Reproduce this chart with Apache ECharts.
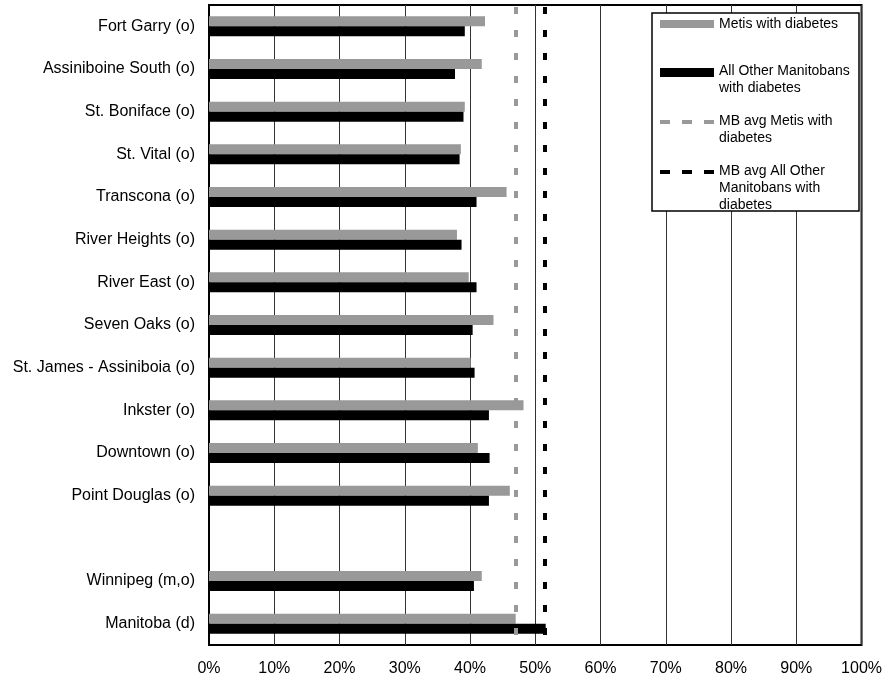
<!DOCTYPE html>
<html><head><meta charset="utf-8">
<script src="https://cdn.jsdelivr.net/npm/echarts@6/dist/echarts.min.js"></script>
<style>html,body{margin:0;padding:0;background:#fff}#c{width:885px;height:681px}</style>
</head><body><div id="c"></div>
<script>
var categories = ["Fort Garry (o)","Assiniboine South (o)","St. Boniface (o)","St. Vital (o)","Transcona (o)","River Heights (o)","River East (o)","Seven Oaks (o)","St. James - Assiniboia (o)","Inkster (o)","Downtown (o)","Point Douglas (o)"," ","Winnipeg (m,o)","Manitoba (d)"];
var metis = [42.3,41.8,39.2,38.6,45.6,38.0,39.8,43.6,40.1,48.2,41.2,46.1,null,41.8,47.0];
var others = [39.2,37.7,39.0,38.4,41.0,38.7,41.0,40.4,40.7,42.9,43.0,42.9,null,40.6,51.6];
var avgMetis = 47.0;
var avgOthers = 51.5;
var xTicks = ["0%","10%","20%","30%","40%","50%","60%","70%","80%","90%","100%"];
var seriesNames = ["Metis with diabetes","All Other Manitobans with diabetes","MB avg Metis with diabetes","MB avg All Other Manitobans with diabetes"];

var font = "'Liberation Sans', Arial, sans-serif";
var chart = echarts.init(document.getElementById('c'));
var lx = 660, tx = 719;
chart.setOption({
  animation:false,
  grid:{left:209,right:23,top:5,bottom:36,show:true,borderColor:'#000',borderWidth:2,containLabel:false},
  xAxis:{type:'value',min:0,max:100,interval:10,
    axisLine:{show:false},axisTick:{show:false},
    splitLine:{show:true,lineStyle:{color:'#333',width:1}},
    axisLabel:{margin:16,fontFamily:font,fontSize:16,color:'#000',
      formatter:function(v){return xTicks[Math.round(v/10)];}}},
  yAxis:{type:'category',data:categories,inverse:true,
    axisLine:{show:true,lineStyle:{color:'#000',width:2}},axisTick:{show:false},
    splitLine:{show:false},
    axisLabel:{margin:14,fontFamily:font,fontSize:16,color:'#000'}},
  series:[
    {name:seriesNames[0],type:'bar',data:metis,barWidth:10,barGap:'0%',itemStyle:{color:'#999999'}},
    {name:seriesNames[1],type:'bar',data:others,barWidth:10,barGap:'0%',itemStyle:{color:'#000000'}},
    {name:seriesNames[2],type:'line',data:[],markLine:{silent:true,symbol:'none',label:{show:false},
      lineStyle:{color:'#999999',width:4,type:[7,16],dashOffset:-2},data:[{xAxis:avgMetis}]}},
    {name:seriesNames[3],type:'line',data:[],markLine:{silent:true,symbol:'none',label:{show:false},
      lineStyle:{color:'#000000',width:4,type:[7,16],dashOffset:-2},data:[{xAxis:avgOthers}]}}
  ],
  graphic:[
    {type:'rect',shape:{x:652,y:13,width:207,height:198},style:{fill:'#fff',stroke:'#000',lineWidth:1.5},z:100},
    {type:'rect',shape:{x:lx,y:20,width:54,height:8},style:{fill:'#999999'},z:101},
    {type:'text',x:tx,y:24,style:{text:'Metis with diabetes',fontFamily:font,fontSize:14,fill:'#000',verticalAlign:'middle'},z:101},
    {type:'rect',shape:{x:lx,y:68,width:54,height:9},style:{fill:'#000'},z:101},
    {type:'text',x:tx,y:63,style:{text:'All Other Manitobans\nwith diabetes',fontFamily:font,fontSize:14,lineHeight:17,fill:'#000',verticalAlign:'top'},z:101},
    {type:'line',shape:{x1:lx,y1:122,x2:lx+54,y2:122},style:{stroke:'#999999',lineWidth:4,lineDash:[10,12]},z:101},
    {type:'text',x:tx,y:113,style:{text:'MB avg Metis with\ndiabetes',fontFamily:font,fontSize:14,lineHeight:17,fill:'#000',verticalAlign:'top'},z:101},
    {type:'line',shape:{x1:lx,y1:172,x2:lx+54,y2:172},style:{stroke:'#000',lineWidth:4,lineDash:[10,12]},z:101},
    {type:'text',x:tx,y:163,style:{text:'MB avg All Other\nManitobans with\ndiabetes',fontFamily:font,fontSize:14,lineHeight:17,fill:'#000',verticalAlign:'top'},z:101}
  ]
});
</script></body></html>
